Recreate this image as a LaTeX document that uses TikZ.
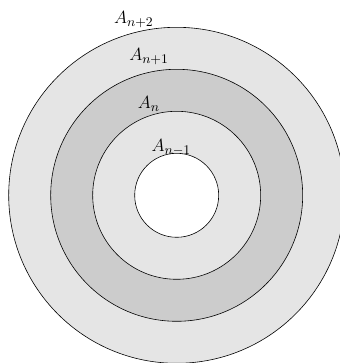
\documentclass[tikz,border=0pt]{standalone}
\usepackage{tikz}

\tikzset{
  ring/.style={draw=black,thin},
  lab/.style={anchor=base,inner sep=0pt,font=\fontsize{13}{15}\selectfont}
}

\begin{document}
\begin{tikzpicture}
  \clip (-4.207,-3.993) rectangle (3.888,4.65);
  \useasboundingbox (-4.207,-3.993) rectangle (3.888,4.65);
  \coordinate (O) at (0,0);

  \draw[ring,fill=gray!20] (O) circle (4);
  \draw[ring,fill=gray!40] (O) circle (3);
  \draw[ring,fill=gray!20] (O) circle (2);
  \draw[ring,fill=white] (O) circle (1);

  \node[lab] (An2) at (-1.02,4.08) {$A_{n+2}$};
  \node[lab] (An1) at (-0.66,3.20) {$A_{n+1}$};
  \node[lab] (An)  at (-0.66,2.07) {$A_{n}$};
  \node[lab] (Am1) at (-0.13,1.04) {$A_{n-1}$};
\end{tikzpicture}
\end{document}
